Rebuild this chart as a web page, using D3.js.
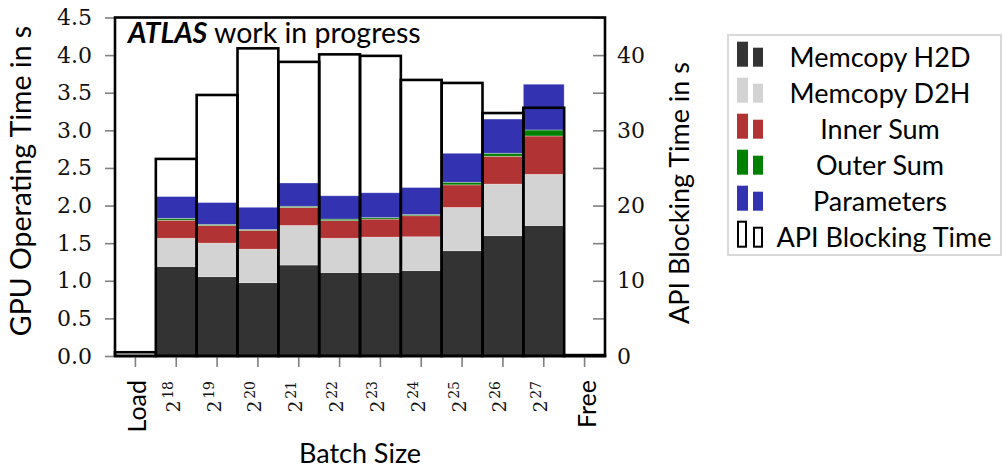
<!DOCTYPE html>
<html>
<head>
<meta charset="utf-8">
<script src="https://cdn.jsdelivr.net/npm/d3@7"></script>
<style>
  html, body { margin: 0; padding: 0; background: #fff; }
  svg { display: block; }
</style>
</head>
<body>
<svg id="chart" width="1003" height="469"></svg>
<script>
// Batch-size scan: GPU kernel/memcopy breakdown (left axis) and API blocking time (right axis)
const categories = ["Load", "2^18", "2^19", "2^20", "2^21", "2^22", "2^23", "2^24", "2^25", "2^26", "2^27", "Free"];

// GPU operating time per component, seconds
const memcopyH2D = [0, 1.19, 1.055, 0.975, 1.21, 1.11, 1.11, 1.135, 1.40, 1.60, 1.735, 0];
const memcopyD2H = [0, 0.375, 0.445, 0.445, 0.525, 0.455, 0.47, 0.45, 0.575, 0.685, 0.68, 0];
const innerSum   = [0, 0.24, 0.235, 0.25, 0.24, 0.235, 0.24, 0.28, 0.30, 0.37, 0.51, 0];
const outerSum   = [0, 0.025, 0.015, 0.012, 0.015, 0.02, 0.02, 0.015, 0.035, 0.04, 0.08, 0];
const parameters = [0, 0.29, 0.29, 0.295, 0.31, 0.31, 0.33, 0.36, 0.385, 0.455, 0.608, 0];

// API blocking time, seconds (right axis)
const apiBlocking = [0.5, 26.2, 34.7, 40.9, 39.1, 40.1, 39.9, 36.7, 36.3, 32.3, 33.0, 0.12];

const seriesNames  = ["Memcopy H2D", "Memcopy D2H", "Inner Sum", "Outer Sum", "Parameters"];
const seriesValues = [memcopyH2D, memcopyD2H, innerSum, outerSum, parameters];
const seriesColors = ["#333333", "#d3d3d3", "#b23333", "#008000", "#3333b2"];

const leftTicks  = [0, 0.5, 1, 1.5, 2, 2.5, 3, 3.5, 4, 4.5];
const rightTicks = [0, 5, 10, 15, 20, 25, 30, 35, 40, 45];

const SERIF = "'DejaVu Serif', 'Liberation Serif', serif";
const SANS  = "Lato, 'Open Sans', sans-serif";

const plot = { left: 115, right: 605, top: 17.5, bottom: 356 };

const svg = d3.select("#chart");

const x = d3.scaleBand().domain(categories).range([plot.left, plot.right]).padding(0);
const yLeft  = d3.scaleLinear().domain([0, 4.5]).range([plot.bottom, plot.top]);
const yRight = d3.scaleLinear().domain([0, 45]).range([plot.bottom, plot.top]);

// stacked rows
const rows = categories.map((c, i) => {
  const r = { cat: c };
  seriesNames.forEach((n, k) => { r[n] = seriesValues[k][i]; });
  return r;
});
const stacked = d3.stack().keys(seriesNames)(rows);

// API blocking bars: white fill behind the stacks
svg.append("g").selectAll("rect")
  .data(categories)
  .join("rect")
  .attr("x", c => x(c))
  .attr("width", x.bandwidth())
  .attr("y", (c, i) => yRight(apiBlocking[i]))
  .attr("height", (c, i) => plot.bottom - yRight(apiBlocking[i]))
  .attr("fill", "#fff");

// stacked GPU components
const stackG = svg.append("g");
stacked.forEach((layer, k) => {
  stackG.append("g")
    .selectAll("rect")
    .data(layer.filter(d => d[1] - d[0] > 0))
    .join("rect")
    .attr("x", d => x(d.data.cat))
    .attr("width", x.bandwidth())
    .attr("y", d => yLeft(d[1]))
    .attr("height", d => yLeft(d[0]) - yLeft(d[1]))
    .attr("fill", seriesColors[k])
    .attr("stroke", "#fff")
    .attr("stroke-opacity", 0.4)
    .attr("stroke-width", 0.8);
});

// API blocking bar outlines on top
svg.append("g").selectAll("rect")
  .data(categories)
  .join("rect")
  .attr("x", c => x(c))
  .attr("width", x.bandwidth())
  .attr("y", (c, i) => yRight(apiBlocking[i]))
  .attr("height", (c, i) => plot.bottom - yRight(apiBlocking[i]))
  .attr("fill", "none")
  .attr("stroke", "#000")
  .attr("stroke-width", 2.6);

// left axis
const axL = svg.append("g")
  .attr("transform", `translate(${plot.left},0)`)
  .call(d3.axisLeft(yLeft).tickValues(leftTicks).tickFormat(d3.format(".1f")).tickSize(10).tickPadding(13));
axL.select(".domain").remove();
axL.selectAll(".tick line").attr("stroke", "#808080").attr("stroke-width", 1.6);
axL.selectAll(".tick text")
  .style("font-family", SERIF).style("font-size", "22px").style("font-weight", 300).attr("fill", "#111");

// right axis (inward ticks, labels every 10 s)
const axR = svg.append("g")
  .attr("transform", `translate(${plot.right},0)`)
  .call(d3.axisRight(yRight).tickValues(rightTicks)
    .tickFormat(d => d % 10 === 0 && d < 45 ? d3.format("d")(d) : "")
    .tickSize(-12).tickPadding(12));
axR.select(".domain").remove();
axR.selectAll(".tick line").attr("stroke", "#808080").attr("stroke-width", 1.6);
axR.selectAll(".tick text")
  .style("font-family", SERIF).style("font-size", "22px").style("font-weight", 300).attr("fill", "#111");

// bottom axis: ticks only, labels drawn rotated below
const axB = svg.append("g")
  .attr("transform", `translate(0,${plot.bottom})`)
  .call(d3.axisBottom(x).tickSize(11).tickFormat(""));
axB.select(".domain").remove();
axB.selectAll(".tick line").attr("stroke", "#808080").attr("stroke-width", 1.6);

const xl = svg.append("g");
categories.forEach(c => {
  const cx = x(c) + x.bandwidth() / 2;
  if (c.includes("^")) {
    const [base, exp] = c.split("^");
    const t = xl.append("text")
      .attr("transform", `translate(${cx + 3.5},381) rotate(-90)`)
      .attr("text-anchor", "end")
      .style("font-family", SERIF)
      .attr("fill", "#111");
    t.append("tspan").style("font-size", "19px").text(base);
    t.append("tspan").style("font-size", "14px").attr("dy", -6.5).attr("dx", 1.5).text(exp);
  } else {
    xl.append("text")
      .attr("transform", `translate(${cx + 11},380) rotate(-90)`)
      .attr("text-anchor", "end")
      .style("font-family", SANS)
      .style("font-size", "25px")
      .attr("fill", "#000")
      .text(c);
  }
});

// plot frame
svg.append("rect")
  .attr("x", plot.left).attr("y", plot.top)
  .attr("width", plot.right - plot.left).attr("height", plot.bottom - plot.top)
  .attr("fill", "none").attr("stroke", "#000").attr("stroke-width", 2.6);

// axis titles
svg.append("text")
  .attr("transform", `translate(${(plot.left + plot.right) / 2},463)`)
  .attr("text-anchor", "middle")
  .style("font-family", SANS).style("font-size", "27px").attr("fill", "#000")
  .text("Batch Size");

svg.append("text")
  .attr("transform", `translate(31,181) rotate(-90)`)
  .attr("text-anchor", "middle")
  .style("font-family", SANS).style("font-size", "28.5px").attr("fill", "#000")
  .text("GPU Operating Time in s");

svg.append("text")
  .attr("transform", `translate(689,193) rotate(-90)`)
  .attr("text-anchor", "middle")
  .style("font-family", SANS).style("font-size", "27px").attr("fill", "#000")
  .text("API Blocking Time in s");

// experiment tag
const tag = svg.append("text")
  .attr("x", 128).attr("y", 43)
  .style("font-family", SANS).style("font-size", "28.5px").attr("fill", "#000");
tag.append("tspan").attr("font-weight", "bold").attr("font-style", "italic").text("ATLAS");
tag.append("tspan").text(" work in progress");

// legend
const legend = svg.append("g");
legend.append("rect")
  .attr("x", 728).attr("y", 35).attr("width", 273).attr("height", 220)
  .attr("fill", "#fff").attr("stroke", "#d9d9d9").attr("stroke-width", 2);

const legendItems = seriesNames.map((n, k) => ({ name: n, color: seriesColors[k], outline: false }))
  .concat([{ name: "API Blocking Time", color: "#fff", outline: true }]);

legendItems.forEach((it, i) => {
  const base = 66.7 + i * 36;
  const g = legend.append("g");
  g.append("rect")
    .attr("x", it.outline ? 738 : 737).attr("y", base - 25)
    .attr("width", it.outline ? 8 : 11).attr("height", 25)
    .attr("fill", it.color)
    .attr("stroke", it.outline ? "#000" : "none").attr("stroke-width", 2);
  g.append("rect")
    .attr("x", it.outline ? 754 : 753).attr("y", base - 19)
    .attr("width", it.outline ? 8 : 10).attr("height", 19)
    .attr("fill", it.color)
    .attr("stroke", it.outline ? "#000" : "none").attr("stroke-width", 2);
  g.append("text")
    .attr("x", it.outline ? 884 : 880).attr("y", base)
    .attr("text-anchor", "middle")
    .style("font-family", SANS).style("font-size", "27px").attr("fill", "#000")
    .text(it.name);
});
</script>
</body>
</html>
